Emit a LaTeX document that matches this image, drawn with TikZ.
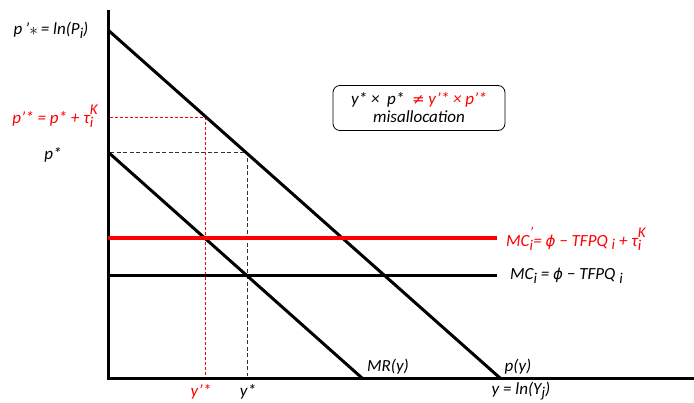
\documentclass[tikz,border=0pt]{standalone}
\usepackage{fontspec}
\setmainfont{Carlito}
\newfontfamily\symf{DejaVu Sans}
\newcommand{\sbx}[1]{\raisebox{-0.45ex}{\fontsize{15}{15}\selectfont #1}}
\newcommand{\subsup}[2]{\raisebox{-0.5ex}{\fontsize{15}{10}\selectfont\begin{tabular}[b]{@{}l@{}}#1\\#2\end{tabular}}}
\newcommand{\phix}{{\symf\fontsize{15}{15}\selectfont ϕ}}
\newcommand{\neqx}{{\symf\fontsize{15}{15}\selectfont ≠}}
\begin{document}
\begin{tikzpicture}[x=1pt,y=-1pt,
  lbl/.style={font=\fontsize{17}{19}\selectfont\itshape, inner sep=1pt},
  curve/.style={line width=3pt},
  dashr/.style={color=red, dash pattern=on 3pt off 2pt, line width=1.05pt},
  dashk/.style={color=black!80, dash pattern=on 4pt off 2.5pt, line width=0.9pt}]
\useasboundingbox (0,0) rectangle (694,402);
% axes
\coordinate (O) at (108,378);
\coordinate (Ytop) at (108,10);
\coordinate (Xend) at (694,378);
% dashed guides
\coordinate (A) at (205.5,117.5);
\coordinate (Ab) at (205.5,376);
\coordinate (Al) at (110,117.5);
\coordinate (B) at (247.5,152.5);
\coordinate (Bb) at (247.5,376);
\coordinate (Bl) at (110,152.5);
\draw[dashr] (Al) -- (A) -- (Ab);
\draw[dashk] (Bl) -- (B) -- (Bb);
\draw[curve] (Ytop) -- (O) -- (Xend);
% demand and MR
\coordinate (P0) at (108,30);
\coordinate (P1) at (500,378);
\coordinate (M0) at (108,152);
\coordinate (M1) at (362,378);
\draw[curve] (P0) -- (P1);
\draw[curve] (M0) -- (M1);
% MC lines
\coordinate (R0) at (108,238);
\coordinate (R1) at (497,238);
\coordinate (K0) at (108,275);
\coordinate (K1) at (497,275);
\draw[line width=3.2pt, red] (R0) -- (R1);
\draw[curve] (K0) -- (K1);
% labels
\node[lbl] (lp1) at (51,30) {p\,'\raisebox{-0.1ex}{$\ast$}\,= ln(P\sbx{i})};
\node[lbl, red] (lp2) at (55,118) {p'* = p* + τ\subsup{K}{i}};
\node[lbl] (lp3) at (53,155) {p*};
\node[lbl, red] (ly1) at (201,392) {y'*};
\node[lbl] (ly2) at (248,392) {y*};
\node[lbl] (lmr) at (388,367) {MR(y)};
\node[lbl] (lpy) at (518,367) {p(y)};
\node[lbl] (lyy) at (521,391) {y = ln(Y\sbx{j})};
\node[lbl, red, anchor=west] (lmc2) at (505,240) {MC\subsup{'}{i}= \phix\ − TFPQ \sbx{i} + τ\subsup{K}{i}};
\node[lbl, anchor=west] (lmc1) at (509,276) {MC\sbx{i} = \phix\ − TFPQ \sbx{i}};
\node[lbl, draw, rounded corners=7pt, line width=0.8pt, minimum width=172pt, minimum height=45pt, align=center] (box) at (419,108)
  {y* ×\ \ p*\ \ \textcolor{red}{\neqx\ y'* × p'*}\\[-1pt] misallocation};
\end{tikzpicture}
\end{document}
